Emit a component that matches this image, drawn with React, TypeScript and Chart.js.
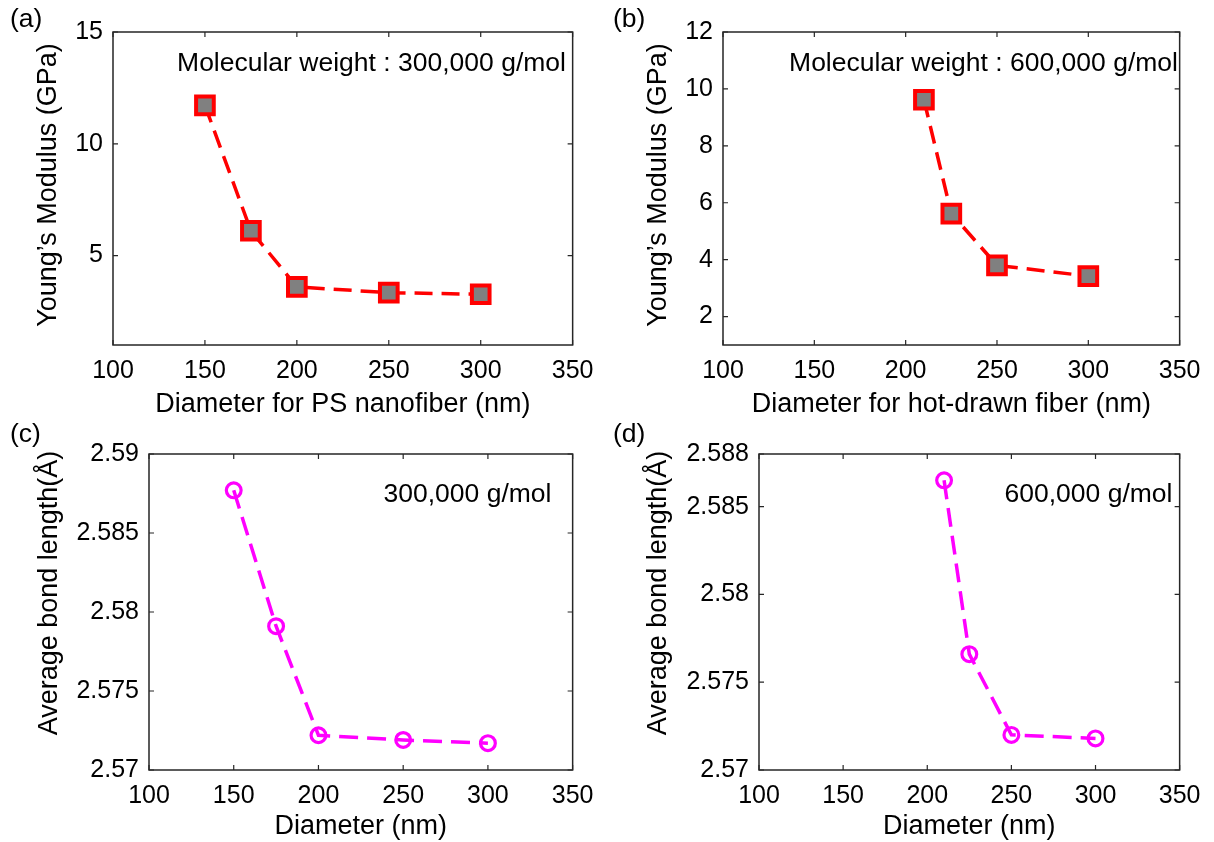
import React, { useEffect, useRef } from "react";
import { Chart, registerables } from "chart.js";

Chart.register(...registerables);

const FONT = '"Liberation Sans", Arial, Helvetica, sans-serif';

// ---- data ----
const xTickValues = [100, 150, 200, 250, 300, 350];

const diameterA = [150, 175, 200, 250, 300];
const modulusA = [11.72, 6.11, 3.6, 3.34, 3.27];
const yTicksA = [5, 10, 15];

const diameterB = [210, 225, 250, 300];
const modulusB = [9.62, 5.62, 3.8, 3.42];
const yTicksB = [2, 4, 6, 8, 10, 12];

const diameterC = [150, 175, 200, 250, 300];
const bondC = [2.5877, 2.5791, 2.5722, 2.5719, 2.5717];
const yTicksC = [2.57, 2.575, 2.58, 2.585, 2.59];

const diameterD = [210, 225, 250, 300];
const bondD = [2.5865, 2.5766, 2.572, 2.5718];
const yTicksD = [2.57, 2.575, 2.58, 2.585, 2.588];

type Panel = {
  left: number;
  top: number;
  width: number;
  height: number;
  area: { left: number; top: number; right: number; bottom: number };
  xs: number[];
  ys: number[];
  yMin: number;
  yMax: number;
  yTicks: number[];
  kind: "square" | "circle";
  label: { text: string; x: number; y: number };
  note: { text: string; x: number; y: number };
  xTitle: string;
  xTitlePad: number;
  yTitle: { text: string; x: number; y: number };
};

const panels: Panel[] = [
  {
    left: 0, top: 0, width: 607, height: 421,
    area: { left: 113, top: 32, right: 579, bottom: 345 },
    xs: diameterA, ys: modulusA, yMin: 1, yMax: 15, yTicks: yTicksA, kind: "square",
    label: { text: "(a)", x: 10, y: 20 },
    note: { text: "Molecular weight : 300,000 g/mol", x: 371.5, y: 70.7 },
    xTitle: "Diameter for PS nanofiber (nm)", xTitlePad: 2.5,
    yTitle: { text: "Young\u2019s Modulus (GPa)", x: 49, y: 185 },
  },
  {
    left: 607, top: 0, width: 607, height: 421,
    area: { left: 116, top: 32, right: 584, bottom: 345 },
    xs: diameterB, ys: modulusB, yMin: 1, yMax: 12, yTicks: yTicksB, kind: "square",
    label: { text: "(b)", x: 6, y: 20 },
    note: { text: "Molecular weight : 600,000 g/mol", x: 376.5, y: 70.7 },
    xTitle: "Diameter for hot-drawn fiber (nm)", xTitlePad: 2.5,
    yTitle: { text: "Young\u2019s Modulus (GPa)", x: 52, y: 185 },
  },
  {
    left: 0, top: 421, width: 607, height: 421,
    area: { left: 149, top: 33, right: 579, bottom: 349 },
    xs: diameterC, ys: bondC, yMin: 2.57, yMax: 2.59, yTicks: yTicksC, kind: "circle",
    label: { text: "(c)", x: 10, y: 14 },
    note: { text: "300,000 g/mol", x: 467.5, y: 80.7 },
    xTitle: "Diameter (nm)", xTitlePad: 1.5,
    yTitle: { text: "Average bond length(\u00C5)", x: 50, y: 172 },
  },
  {
    left: 607, top: 421, width: 607, height: 421,
    area: { left: 152, top: 33, right: 584, bottom: 349 },
    xs: diameterD, ys: bondD, yMin: 2.57, yMax: 2.588, yTicks: yTicksD, kind: "circle",
    label: { text: "(d)", x: 6, y: 14 },
    note: { text: "600,000 g/mol", x: 481.5, y: 80.7 },
    xTitle: "Diameter (nm)", xTitlePad: 1.5,
    yTitle: { text: "Average bond length(\u00C5)", x: 52, y: 172 },
  },
];

function fmt(v: number) {
  return String(Number(v.toFixed(4)));
}

function drawStretched(ctx: any, text: string, x: number, y: number, stretch: number) {
  ctx.save();
  ctx.translate(x, y);
  ctx.scale(stretch, 1);
  ctx.fillText(text, 0, 0);
  ctx.restore();
}

function makeConfig(p: Panel): any {
  const decor = {
    id: "decor",
    beforeDatasetsDraw(chart: any) {
      const { ctx, chartArea: a, scales } = chart;
      ctx.save();
      ctx.strokeStyle = "#262626";
      ctx.lineWidth = 1.5;
      ctx.strokeRect(a.left, a.top, a.right - a.left, a.bottom - a.top);
      ctx.lineWidth = 1.2;
      const tl = 5;
      ctx.beginPath();
      for (const t of scales.x.ticks) {
        const px = scales.x.getPixelForValue(t.value);
        ctx.moveTo(px, a.bottom);
        ctx.lineTo(px, a.bottom - tl);
        ctx.moveTo(px, a.top);
        ctx.lineTo(px, a.top + tl);
      }
      for (const t of scales.y.ticks) {
        const py = scales.y.getPixelForValue(t.value);
        ctx.moveTo(a.left, py);
        ctx.lineTo(a.left + tl, py);
        ctx.moveTo(a.right, py);
        ctx.lineTo(a.right - tl, py);
      }
      ctx.stroke();
      ctx.restore();
    },
    afterDraw(chart: any) {
      const { ctx } = chart;
      ctx.save();
      ctx.fillStyle = "#000";
      ctx.font = `25px ${FONT}`;
      ctx.textAlign = "left";
      ctx.textBaseline = "middle";
      drawStretched(ctx, p.label.text, p.label.x, p.label.y, 1.06);
      ctx.font = `25px ${FONT}`;
      ctx.textAlign = "center";
      ctx.textBaseline = "alphabetic";
      drawStretched(ctx, p.note.text, p.note.x, p.note.y, 1.06);
      ctx.translate(p.yTitle.x, p.yTitle.y);
      ctx.rotate(-Math.PI / 2);
      ctx.font = `27px ${FONT}`;
      ctx.textAlign = "center";
      ctx.textBaseline = "middle";
      ctx.fillText(p.yTitle.text, 0, 0);
      ctx.restore();
    },
  };

  const isSquare = p.kind === "square";
  const color = isSquare ? "#ff0000" : "#ff00ff";

  return {
    type: "line",
    data: {
      datasets: [
        {
          data: p.xs.map((x, i) => ({ x, y: p.ys[i] })),
          borderColor: color,
          borderWidth: 3.5,
          borderDash: isSquare ? [18, 9] : [19, 9],
          fill: false,
          tension: 0,
          pointStyle: isSquare ? "rect" : "circle",
          pointRadius: isSquare ? 12.5 : 7.4,
          pointBackgroundColor: isSquare ? "#808080" : "rgba(0,0,0,0)",
          pointBorderColor: color,
          pointBorderWidth: isSquare ? 4 : 3.2,
          pointHoverRadius: isSquare ? 12.5 : 7.4,
        },
      ],
    },
    options: {
      animation: false,
      responsive: false,
      devicePixelRatio: 1,
      events: [],
      layout: {
        padding: {
          left: 0,
          top: p.area.top,
          right: p.width - p.area.right,
          bottom: 0,
        },
      },
      plugins: {
        legend: { display: false },
        tooltip: { enabled: false },
        title: { display: false },
      },
      scales: {
        x: {
          type: "linear",
          position: "bottom",
          min: 100,
          max: 350,
          afterBuildTicks: (scale: any) => {
            scale.ticks = xTickValues.map((v) => ({ value: v }));
          },
          afterFit: (scale: any) => {
            scale.height = p.height - p.area.bottom;
          },
          grid: { display: false, drawTicks: false, tickLength: 0 },
          border: { display: false },
          ticks: {
            color: "#000",
            padding: 13.5,
            maxRotation: 0,
            font: { family: FONT, size: 25, lineHeight: 1 },
            callback: (v: number) => fmt(v),
          },
          title: {
            display: true,
            text: p.xTitle,
            color: "#000",
            font: { family: FONT, size: 27, lineHeight: 1 },
            padding: { top: 0, bottom: p.xTitlePad },
          },
        },
        y: {
          type: "linear",
          position: "left",
          min: p.yMin,
          max: p.yMax,
          afterBuildTicks: (scale: any) => {
            scale.ticks = p.yTicks.map((v) => ({ value: v }));
          },
          afterFit: (scale: any) => {
            scale.width = p.area.left;
          },
          grid: { display: false, drawTicks: false, tickLength: 0 },
          border: { display: false },
          ticks: {
            color: "#000",
            padding: 10,
            font: { family: FONT, size: 25, lineHeight: 1 },
            callback: (v: number) => fmt(v),
          },
          title: { display: false },
        },
      },
    },
    plugins: [decor],
  };
}

function PanelChart({ p }: { p: Panel }) {
  const ref = useRef<HTMLCanvasElement | null>(null);
  useEffect(() => {
    if (!ref.current) return;
    const chart = new Chart(ref.current, makeConfig(p));
    return () => chart.destroy();
  }, [p]);
  return (
    <canvas
      ref={ref}
      width={p.width}
      height={p.height}
      style={{
        position: "absolute",
        left: p.left,
        top: p.top,
        width: p.width,
        height: p.height,
        display: "block",
      }}
    />
  );
}

export default function App() {
  return (
    <div
      style={{
        position: "absolute",
        left: 0,
        top: 0,
        width: 1214,
        height: 842,
        background: "#ffffff",
        overflow: "hidden",
      }}
    >
      {panels.map((p, i) => (
        <PanelChart key={i} p={p} />
      ))}
    </div>
  );
}
